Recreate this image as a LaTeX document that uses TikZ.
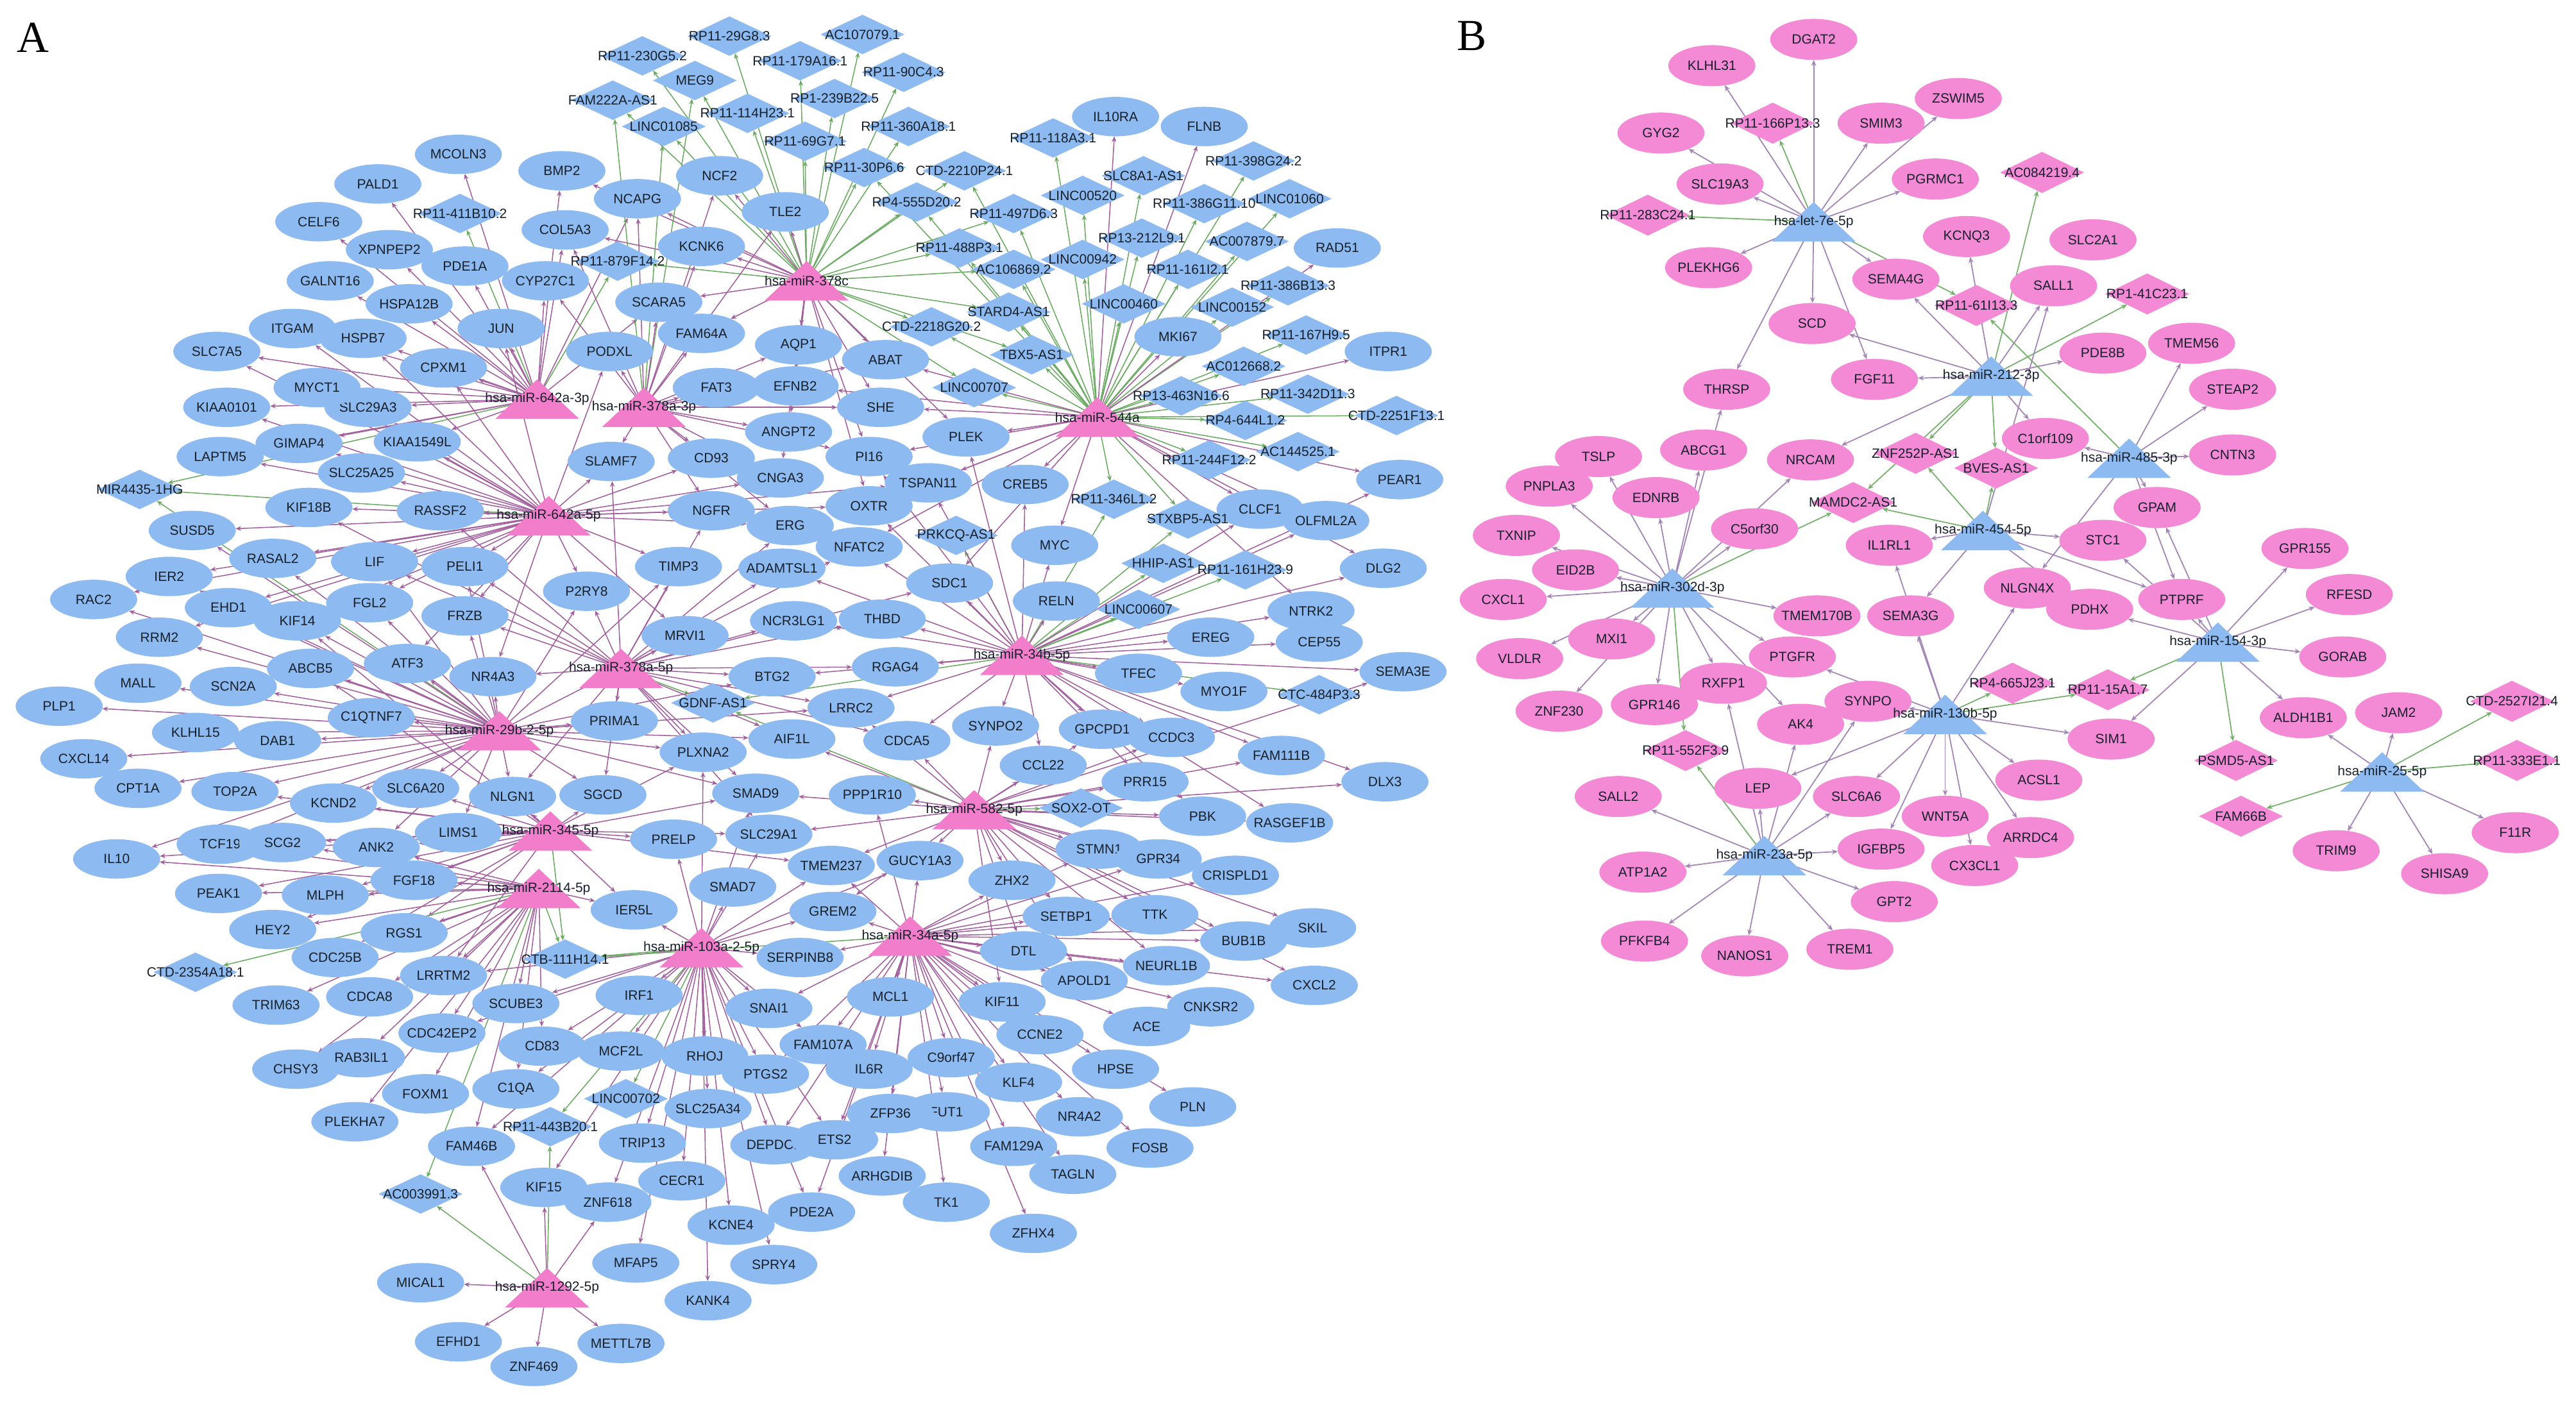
\documentclass[tikz,border=0pt]{standalone}
\usepackage{fontspec}
\setmainfont{Liberation Sans}
\newfontfamily\serifL{Liberation Serif}
\usetikzlibrary{shapes.geometric,arrows.meta,backgrounds}
\definecolor{nodeblue}{HTML}{8DBBF1}
\definecolor{hubpink}{HTML}{F27DCB}
\definecolor{nodepink}{HTML}{F48AD6}
\definecolor{edgep}{HTML}{A2609E}
\definecolor{edgepb}{HTML}{A386B6}
\definecolor{edgeg}{HTML}{6BAA62}
\definecolor{edgegb}{HTML}{78B06E}
\definecolor{txt}{HTML}{17202A}
\newcommand\nf{\fontsize{8.2}{9}\selectfont}
\newcommand\NGA[3]{\node[gA] (#1) at (#2) {\makebox[0pt]{#3}};}
\newcommand\NLA[3]{\node[lA] (#1) at (#2) {\makebox[0pt]{#3}};}
\newcommand\NGB[3]{\node[gB] (#1) at (#2) {\makebox[0pt]{#3}};}
\newcommand\NLB[3]{\node[lB] (#1) at (#2) {\makebox[0pt]{#3}};}
\newcommand\NHA[3]{\node[hA] (#1) at (#2) {\makebox[0pt]{#3}};}
\newcommand\NHB[3]{\node[hB] (#1) at (#2) {\makebox[0pt]{#3}};}
\tikzset{
 base/.style={inner sep=0pt, outer sep=0pt, font=\nf, text=txt},
 gA/.style={base, ellipse, fill=nodeblue, minimum width=53pt, minimum height=24pt},
 lA/.style={base, diamond, aspect=2, fill=nodeblue, minimum width=51pt, minimum height=24pt},
 gB/.style={base, ellipse, fill=nodepink, minimum width=53pt, minimum height=25pt},
 lB/.style={base, diamond, aspect=2, fill=nodepink, minimum width=51pt, minimum height=25pt},
 tri/.style={base, rectangle, minimum width=51pt, minimum height=24pt, draw=white, draw opacity=0,
   path picture={\fill[#1] (path picture bounding box.south west) -- (path picture bounding box.north) -- (path picture bounding box.south east) -- cycle;}},
 hA/.style={tri=hubpink},
 hB/.style={tri=nodeblue},
 pe/.style={draw=edgep, line width=0.6pt, -{Stealth[length=3.4pt,width=2.8pt]}},
 ge/.style={draw=edgeg, line width=0.6pt, -{Stealth[length=3.4pt,width=2.8pt]}},
 peb/.style={draw=edgepb, line width=0.7pt, -{Stealth[length=3.6pt,width=3pt]}},
 geb/.style={draw=edgegb, line width=0.7pt, -{Stealth[length=3.6pt,width=3pt]}},
}
\begin{document}
\begin{tikzpicture}[x=1pt,y=-1pt]
\useasboundingbox (0,0) rectangle (1568,854);
\node[inner sep=0pt, anchor=center] (labA) at (20,23) {\serifL\fontsize{27}{30}\selectfont A};
\node[inner sep=0pt, anchor=center] (labB) at (896,22) {\serifL\fontsize{27}{30}\selectfont B};
% ---------------- Panel A nodes ----------------
\NGA{MCOLN3}{279,94}{MCOLN3}
\NGA{PALD1}{230,112}{PALD1}
\NLA{RP11-411B10p2}{280,130}{RP11-411B10.2}
\NGA{CELF6}{194,135}{CELF6}
\NGA{XPNPEP2}{237,152}{XPNPEP2}
\NGA{PDE1A}{283,162}{PDE1A}
\NGA{GALNT16}{201,171}{GALNT16}
\NGA{HSPA12B}{249,185}{HSPA12B}
\NGA{ITGAM}{178,200}{ITGAM}
\NGA{HSPB7}{221,206}{HSPB7}
\NGA{SLC7A5}{132,214}{SLC7A5}
\NGA{CPXM1}{270,224}{CPXM1}
\NGA{SLC29A3}{224,248}{SLC29A3}
\NGA{MYCT1}{193,236}{MYCT1}
\NGA{KIAA0101}{138,248}{KIAA0101}
\NGA{GIMAP4}{182,270}{GIMAP4}
\NGA{KIAA1549L}{254,269}{KIAA1549L}
\NGA{LAPTM5}{134,278}{LAPTM5}
\NGA{JUN}{305,200}{JUN}
\NGA{CYP27C1}{332,171}{CYP27C1}
\NLA{RP11-29G8p3}{444,22}{RP11-29G8.3}
\NLA{AC107079p1}{525,21}{AC107079.1}
\NLA{RP11-230G5p2}{391,34}{RP11-230G5.2}
\NLA{RP11-179A16p1}{487,37}{RP11-179A16.1}
\NLA{RP11-90C4p3}{550,44}{RP11-90C4.3}
\NLA{MEG9}{423,49}{MEG9}
\NLA{FAM222A-AS1}{373,61}{FAM222A-AS1}
\NLA{RP1-239B22p5}{508,60}{RP1-239B22.5}
\NLA{RP11-114H23p1}{455,69}{RP11-114H23.1}
\NLA{LINC01085}{404,77}{LINC01085}
\NLA{RP11-360A18p1}{553,77}{RP11-360A18.1}
\NLA{RP11-69G7p1}{490,86}{RP11-69G7.1}
\NLA{RP11-30P6p6}{526,102}{RP11-30P6.6}
\NLA{CTD-2210P24p1}{587,104}{CTD-2210P24.1}
\NLA{RP4-555D20p2}{558,123}{RP4-555D20.2}
\NGA{BMP2}{342,104}{BMP2}
\NGA{NCF2}{438,107}{NCF2}
\NGA{NCAPG}{388,121}{NCAPG}
\NGA{TLE2}{478,129}{TLE2}
\NGA{COL5A3}{344,140}{COL5A3}
\NGA{KCNK6}{427,150}{KCNK6}
\NLA{RP11-879F14p2}{376,159}{RP11-879F14.2}
\NLA{RP11-488P3p1}{584,151}{RP11-488P3.1}
\NGA{SCARA5}{401,184}{SCARA5}
\NGA{FAM64A}{427,203}{FAM64A}
\NGA{AQP1}{486,210}{AQP1}
\NLA{CTD-2218G20p2}{567,199}{CTD-2218G20.2}
\NGA{ABAT}{539,219}{ABAT}
\NGA{PODXL}{371,214}{PODXL}
\NGA{FAT3}{436,236}{FAT3}
\NGA{EFNB2}{484,235}{EFNB2}
\NLA{LINC00707}{593,236}{LINC00707}
\NGA{SHE}{536,248}{SHE}
\NGA{ANGPT2}{480,263}{ANGPT2}
\NGA{PI16}{529,278}{PI16}
\NGA{PLEK}{588,266}{PLEK}
\NGA{SLAMF7}{372,281}{SLAMF7}
\NGA{CD93}{433,279}{CD93}
\NGA{IL10RA}{679,71}{IL10RA}
\NGA{FLNB}{733,77}{FLNB}
\NLA{RP11-118A3p1}{641,84}{RP11-118A3.1}
\NLA{SLC8A1-AS1}{696,107}{SLC8A1-AS1}
\NLA{RP11-398G24p2}{763,98}{RP11-398G24.2}
\NLA{LINC00520}{659,119}{LINC00520}
\NLA{LINC01060}{785,121}{LINC01060}
\NLA{RP11-386G11p10}{733,124}{RP11-386G11.10}
\NLA{RP11-497D6p3}{617,130}{RP11-497D6.3}
\NLA{RP13-212L9p1}{695,145}{RP13-212L9.1}
\NLA{AC007879p7}{759,147}{AC007879.7}
\NGA{RAD51}{814,151}{RAD51}
\NLA{AC106869p2}{617,164}{AC106869.2}
\NLA{LINC00942}{659,158}{LINC00942}
\NLA{RP11-161I2p1}{723,164}{RP11-161I2.1}
\NLA{RP11-386B13p3}{784,174}{RP11-386B13.3}
\NLA{LINC00460}{684,185}{LINC00460}
\NLA{LINC00152}{750,187}{LINC00152}
\NLA{STARD4-AS1}{614,190}{STARD4-AS1}
\NGA{MKI67}{717,205}{MKI67}
\NLA{RP11-167H9p5}{795,204}{RP11-167H9.5}
\NGA{ITPR1}{845,214}{ITPR1}
\NLA{TBX5-AS1}{628,216}{TBX5-AS1}
\NLA{AC012668p2}{757,223}{AC012668.2}
\NLA{RP13-463N16p6}{719,241}{RP13-463N16.6}
\NLA{RP11-342D11p3}{796,240}{RP11-342D11.3}
\NLA{CTD-2251F13p1}{850,253}{CTD-2251F13.1}
\NLA{RP4-644L1p2}{758,256}{RP4-644L1.2}
\NLA{AC144525p1}{790,275}{AC144525.1}
\NLA{RP11-244F12p2}{736,280}{RP11-244F12.2}
\NGA{PEAR1}{852,292}{PEAR1}
\NGA{CREB5}{624,295}{CREB5}
\NLA{RP11-346L1p2}{678,304}{RP11-346L1.2}
\NGA{CLCF1}{767,310}{CLCF1}
\NLA{STXBP5-AS1}{723,316}{STXBP5-AS1}
\NGA{OLFML2A}{807,317}{OLFML2A}
\NLA{PRKCQ-AS1}{582,326}{PRKCQ-AS1}
\NGA{MYC}{642,332}{MYC}
\NLA{HHIP-AS1}{708,343}{HHIP-AS1}
\NLA{RP11-161H23p9}{758,347}{RP11-161H23.9}
\NGA{DLG2}{842,346}{DLG2}
\NGA{SDC1}{578,355}{SDC1}
\NGA{RELN}{643,366}{RELN}
\NLA{LINC00607}{693,371}{LINC00607}
\NGA{NTRK2}{798,372}{NTRK2}
\NGA{EREG}{737,388}{EREG}
\NGA{CEP55}{803,391}{CEP55}
\NGA{SEMA3E}{854,409}{SEMA3E}
\NGA{TFEC}{693,410}{TFEC}
\NGA{MYO1F}{745,421}{MYO1F}
\NLA{CTC-484P3p3}{803,423}{CTC-484P3.3}
\NGA{SYNPO2}{606,442}{SYNPO2}
\NGA{GPCPD1}{671,444}{GPCPD1}
\NGA{CCDC3}{713,449}{CCDC3}
\NGA{FAM111B}{780,460}{FAM111B}
\NGA{CCL22}{635,466}{CCL22}
\NGA{PRR15}{697,476}{PRR15}
\NGA{DLX3}{843,476}{DLX3}
\NLA{SOX2-OT}{658,492}{SOX2-OT}
\NGA{PBK}{732,497}{PBK}
\NGA{RASGEF1B}{785,501}{RASGEF1B}
\NGA{STMN1}{669,517}{STMN1}
\NGA{GPR34}{705,523}{GPR34}
\NGA{CRISPLD1}{752,533}{CRISPLD1}
\NGA{ZHX2}{616,536}{ZHX2}
\NGA{SETBP1}{649,558}{SETBP1}
\NGA{TTK}{703,557}{TTK}
\NGA{SKIL}{799,565}{SKIL}
\NGA{BUB1B}{757,573}{BUB1B}
\NGA{DTL}{623,579}{DTL}
\NGA{NEURL1B}{710,588}{NEURL1B}
\NGA{APOLD1}{660,597}{APOLD1}
\NGA{CXCL2}{800,600}{CXCL2}
\NGA{KIF11}{610,610}{KIF11}
\NGA{CNKSR2}{737,613}{CNKSR2}
\NGA{ACE}{698,625}{ACE}
\NGA{CCNE2}{633,630}{CCNE2}
\NGA{C9orf47}{579,644}{C9orf47}
\NGA{HPSE}{679,651}{HPSE}
\NGA{KLF4}{620,659}{KLF4}
\NGA{FUT1}{576,677}{FUT1}
\NGA{PLN}{726,674}{PLN}
\NGA{NR4A2}{657,680}{NR4A2}
\NGA{FAM129A}{617,698}{FAM129A}
\NGA{FOSB}{700,699}{FOSB}
\NGA{TAGLN}{653,715}{TAGLN}
\NGA{TK1}{576,732}{TK1}
\NGA{ZFHX4}{629,751}{ZFHX4}
\NLA{CTB-111H14p1}{344,584}{CTB-111H14.1}
\NGA{SERPINB8}{487,583}{SERPINB8}
\NGA{SCUBE3}{314,611}{SCUBE3}
\NGA{IRF1}{389,606}{IRF1}
\NGA{SNAI1}{468,614}{SNAI1}
\NGA{MCL1}{542,607}{MCL1}
\NGA{CD83}{330,637}{CD83}
\NGA{MCF2L}{378,640}{MCF2L}
\NGA{RHOJ}{429,643}{RHOJ}
\NGA{FAM107A}{501,636}{FAM107A}
\NGA{PTGS2}{466,654}{PTGS2}
\NGA{IL6R}{529,651}{IL6R}
\NGA{C1QA}{314,663}{C1QA}
\NLA{LINC00702}{381,669}{LINC00702}
\NGA{SLC25A34}{431,675}{SLC25A34}
\NGA{ZFP36}{542,678}{ZFP36}
\NLA{RP11-443B20p1}{335,686}{RP11-443B20.1}
\NGA{FAM46B}{287,698}{FAM46B}
\NGA{TRIP13}{391,696}{TRIP13}
\NGA{DEPDC1}{471,697}{DEPDC1}
\NGA{ETS2}{508,694}{ETS2}
\NGA{ARHGDIB}{537,716}{ARHGDIB}
\NGA{KIF15}{331,723}{KIF15}
\NGA{CECR1}{415,719}{CECR1}
\NGA{ZNF618}{370,732}{ZNF618}
\NGA{PDE2A}{494,738}{PDE2A}
\NGA{KCNE4}{445,746}{KCNE4}
\NGA{MFAP5}{387,769}{MFAP5}
\NGA{SPRY4}{471,770}{SPRY4}
\NGA{KANK4}{431,792}{KANK4}
\NGA{METTL7B}{378,818}{METTL7B}
\NGA{ZNF469}{325,832}{ZNF469}
\NGA{EFHD1}{279,817}{EFHD1}
\NGA{MICAL1}{256,781}{MICAL1}
\NLA{AC003991p3}{256,727}{AC003991.3}
\NGA{HEY2}{166,566}{HEY2}
\NGA{RGS1}{246,568}{RGS1}
\NLA{CTD-2354A18p1}{119,592}{CTD-2354A18.1}
\NGA{CDC25B}{204,583}{CDC25B}
\NGA{LRRTM2}{270,594}{LRRTM2}
\NGA{TRIM63}{168,612}{TRIM63}
\NGA{CDCA8}{225,607}{CDCA8}
\NGA{CDC42EP2}{269,629}{CDC42EP2}
\NGA{CHSY3}{180,651}{CHSY3}
\NGA{RAB3IL1}{220,644}{RAB3IL1}
\NGA{FOXM1}{259,666}{FOXM1}
\NGA{PLEKHA7}{216,683}{PLEKHA7}
\NGA{SLC25A25}{220,288}{SLC25A25}
\NLA{MIR4435-1HG}{85,298}{MIR4435-1HG}
\NGA{KIF18B}{188,309}{KIF18B}
\NGA{RASSF2}{268,311}{RASSF2}
\NGA{SUSD5}{117,323}{SUSD5}
\NGA{RASAL2}{166,340}{RASAL2}
\NGA{LIF}{228,342}{LIF}
\NGA{PELI1}{283,345}{PELI1}
\NGA{IER2}{103,351}{IER2}
\NGA{RAC2}{57,365}{RAC2}
\NGA{EHD1}{139,370}{EHD1}
\NGA{FGL2}{225,367}{FGL2}
\NGA{FRZB}{283,375}{FRZB}
\NGA{KIF14}{181,378}{KIF14}
\NGA{RRM2}{97,388}{RRM2}
\NGA{ATF3}{248,404}{ATF3}
\NGA{ABCB5}{189,407}{ABCB5}
\NGA{NR4A3}{300,412}{NR4A3}
\NGA{MALL}{84,416}{MALL}
\NGA{SCN2A}{142,418}{SCN2A}
\NGA{PLP1}{36,430}{PLP1}
\NGA{C1QTNF7}{226,437}{C1QTNF7}
\NGA{KLHL15}{119,446}{KLHL15}
\NGA{DAB1}{169,451}{DAB1}
\NGA{CXCL14}{51,462}{CXCL14}
\NGA{CPT1A}{84,480}{CPT1A}
\NGA{TOP2A}{143,482}{TOP2A}
\NGA{SLC6A20}{253,480}{SLC6A20}
\NGA{KCND2}{203,489}{KCND2}
\NGA{LIMS1}{279,507}{LIMS1}
\NGA{TCF19}{134,514}{TCF19}
\NGA{SCG2}{172,513}{SCG2}
\NGA{ANK2}{229,516}{ANK2}
\NGA{IL10}{71,523}{IL10}
\NGA{FGF18}{252,536}{FGF18}
\NGA{PEAK1}{133,544}{PEAK1}
\NGA{MLPH}{198,545}{MLPH}
\NGA{NLGN1}{312,485}{NLGN1}
\NGA{SGCD}{367,484}{SGCD}
\NGA{CNGA3}{475,291}{CNGA3}
\NGA{TSPAN11}{565,294}{TSPAN11}
\NGA{NGFR}{433,311}{NGFR}
\NGA{OXTR}{529,308}{OXTR}
\NGA{ERG}{481,320}{ERG}
\NGA{NFATC2}{523,333}{NFATC2}
\NGA{TIMP3}{413,345}{TIMP3}
\NGA{ADAMTSL1}{476,346}{ADAMTSL1}
\NGA{P2RY8}{357,360}{P2RY8}
\NGA{NCR3LG1}{483,378}{NCR3LG1}
\NGA{THBD}{537,377}{THBD}
\NGA{MRVI1}{417,387}{MRVI1}
\NGA{RGAG4}{545,406}{RGAG4}
\NGA{BTG2}{470,412}{BTG2}
\NLA{GDNF-AS1}{434,428}{GDNF-AS1}
\NGA{LRRC2}{518,431}{LRRC2}
\NGA{PRIMA1}{374,439}{PRIMA1}
\NGA{AIF1L}{482,450}{AIF1L}
\NGA{CDCA5}{552,451}{CDCA5}
\NGA{PLXNA2}{428,458}{PLXNA2}
\NGA{SMAD9}{460,483}{SMAD9}
\NGA{PPP1R10}{531,484}{PPP1R10}
\NGA{PRELP}{410,511}{PRELP}
\NGA{SLC29A1}{468,508}{SLC29A1}
\NGA{TMEM237}{506,527}{TMEM237}
\NGA{GUCY1A3}{560,524}{GUCY1A3}
\NGA{SMAD7}{446,540}{SMAD7}
\NGA{IER5L}{386,554}{IER5L}
\NGA{GREM2}{507,555}{GREM2}
% hubs A
\NHA{hA1}{491,171}{hsa-miR-378c}
\NHA{hA2}{327,243}{hsa-miR-642a-3p}
\NHA{hA3}{392,248}{hsa-miR-378a-3p}
\NHA{hA4}{668,254}{hsa-miR-544a}
\NHA{hA5}{334,314}{hsa-miR-642a-5p}
\NHA{hA6}{378,407}{hsa-miR-378a-5p}
\NHA{hA7}{304,445}{hsa-miR-29b-2-5p}
\NHA{hA8}{622,399}{hsa-miR-34b-5p}
\NHA{hA9}{335,506}{hsa-miR-345-5p}
\NHA{hA10}{593,493}{hsa-miR-582-5p}
\NHA{hA11}{328,541}{hsa-miR-2114-5p}
\NHA{hA12}{427,577}{hsa-miR-103a-2-5p}
\NHA{hA13}{554,570}{hsa-miR-34a-5p}
\NHA{hA14}{333,784}{hsa-miR-1292-5p}
% ---------------- Panel B nodes ----------------
\NGB{bDGAT2}{1104,24}{DGAT2}
\NGB{bKLHL31}{1042,40}{KLHL31}
\NGB{bZSWIM5}{1192,60}{ZSWIM5}
\NGB{bGYG2}{1011,81}{GYG2}
\NLB{bRP11-166P13p3}{1079,75}{RP11-166P13.3}
\NGB{bSMIM3}{1145,75}{SMIM3}
\NGB{bPGRMC1}{1178,109}{PGRMC1}
\NLB{bAC084219p4}{1243,105}{AC084219.4}
\NGB{bSLC19A3}{1047,112}{SLC19A3}
\NLB{bRP11-283C24p1}{1003,131}{RP11-283C24.1}
\NGB{bPLEKHG6}{1040,163}{PLEKHG6}
\NGB{bKCNQ3}{1197,144}{KCNQ3}
\NGB{bSLC2A1}{1274,146}{SLC2A1}
\NGB{bSEMA4G}{1154,170}{SEMA4G}
\NGB{bSALL1}{1250,174}{SALL1}
\NLB{bRP1-41C23p1}{1307,179}{RP1-41C23.1}
\NLB{bRP11-61I13p3}{1203,186}{RP11-61I13.3}
\NGB{bSCD}{1103,197}{SCD}
\NGB{bTMEM56}{1334,209}{TMEM56}
\NGB{bPDE8B}{1280,215}{PDE8B}
\NGB{bFGF11}{1141,231}{FGF11}
\NGB{bTHRSP}{1051,237}{THRSP}
\NGB{bSTEAP2}{1359,237}{STEAP2}
\NGB{bC1orf109}{1245,267}{C1orf109}
\NLB{bZNF252P-AS1}{1166,276}{ZNF252P-AS1}
\NGB{bCNTN3}{1359,277}{CNTN3}
\NLB{bBVES-AS1}{1215,285}{BVES-AS1}
\NGB{bABCG1}{1037,274}{ABCG1}
\NGB{bTSLP}{973,278}{TSLP}
\NGB{bNRCAM}{1102,280}{NRCAM}
\NGB{bPNPLA3}{943,296}{PNPLA3}
\NGB{bEDNRB}{1008,303}{EDNRB}
\NLB{bMAMDC2-AS1}{1128,306}{MAMDC2-AS1}
\NGB{bGPAM}{1313,309}{GPAM}
\NGB{bC5orf30}{1068,322}{C5orf30}
\NGB{bTXNIP}{923,326}{TXNIP}
\NGB{bIL1RL1}{1150,332}{IL1RL1}
\NGB{bSTC1}{1280,329}{STC1}
\NGB{bGPR155}{1403,334}{GPR155}
\NGB{bEID2B}{959,347}{EID2B}
\NGB{bCXCL1}{915,365}{CXCL1}
\NGB{bNLGN4X}{1234,358}{NLGN4X}
\NGB{bPTPRF}{1328,365}{PTPRF}
\NGB{bRFESD}{1430,362}{RFESD}
\NGB{bPDHX}{1272,371}{PDHX}
\NGB{bTMEM170B}{1106,375}{TMEM170B}
\NGB{bSEMA3G}{1163,375}{SEMA3G}
\NGB{bMXI1}{981,389}{MXI1}
\NGB{bVLDLR}{925,401}{VLDLR}
\NGB{bPTGFR}{1091,400}{PTGFR}
\NGB{bGORAB}{1426,400}{GORAB}
\NGB{bRXFP1}{1049,416}{RXFP1}
\NGB{bZNF230}{949,433}{ZNF230}
\NGB{bGPR146}{1007,429}{GPR146}
\NGB{bSYNPO}{1137,427}{SYNPO}
\NGB{bAK4}{1096,441}{AK4}
\NLB{bRP4-665J23p1}{1225,416}{RP4-665J23.1}
\NLB{bRP11-15A1p7}{1283,420}{RP11-15A1.7}
\NGB{bSIM1}{1285,450}{SIM1}
\NGB{bALDH1B1}{1402,437}{ALDH1B1}
\NGB{bJAM2}{1460,434}{JAM2}
\NLB{bCTD-2527I21p4}{1529,427}{CTD-2527I21.4}
\NLB{bPSMD5-AS1}{1361,463}{PSMD5-AS1}
\NLB{bRP11-333E1p1}{1532,463}{RP11-333E1.1}
\NLB{bRP11-552F3p9}{1026,457}{RP11-552F3.9}
\NGB{bACSL1}{1241,475}{ACSL1}
\NGB{bLEP}{1070,480}{LEP}
\NGB{bSALL2}{985,485}{SALL2}
\NGB{bSLC6A6}{1130,485}{SLC6A6}
\NLB{bFAM66B}{1364,497}{FAM66B}
\NGB{bWNT5A}{1184,497}{WNT5A}
\NGB{bF11R}{1531,507}{F11R}
\NGB{bARRDC4}{1236,510}{ARRDC4}
\NGB{bIGFBP5}{1145,517}{IGFBP5}
\NGB{bTRIM9}{1422,518}{TRIM9}
\NGB{bCX3CL1}{1202,527}{CX3CL1}
\NGB{bSHISA9}{1488,532}{SHISA9}
\NGB{bATP1A2}{1000,531}{ATP1A2}
\NGB{bGPT2}{1153,549}{GPT2}
\NGB{bPFKFB4}{1001,573}{PFKFB4}
\NGB{bNANOS1}{1062,582}{NANOS1}
\NGB{bTREM1}{1126,578}{TREM1}
% hubs B
\NHB{hB1}{1104,135}{hsa-let-7e-5p}
\NHB{hB2}{1212,229}{hsa-miR-212-3p}
\NHB{hB3}{1296,279}{hsa-miR-485-3p}
\NHB{hB4}{1207,323}{hsa-miR-454-5p}
\NHB{hB5}{1018,358}{hsa-miR-302d-3p}
\NHB{hB6}{1184,435}{hsa-miR-130b-5p}
\NHB{hB7}{1350,391}{hsa-miR-154-3p}
\NHB{hB8}{1450,470}{hsa-miR-25-5p}
\NHB{hB9}{1074,521}{hsa-miR-23a-5p}
% ---------------- Edges ----------------
\begin{scope}[on background layer]
\fill[white] (0,0) rectangle (1568,854);
% A1 378c
\foreach \t in {RP11-29G8p3,AC107079p1,RP11-230G5p2,RP11-179A16p1,RP11-90C4p3,MEG9,FAM222A-AS1,RP1-239B22p5,RP11-114H23p1,LINC01085,RP11-360A18p1,RP11-69G7p1,RP11-30P6p6,CTD-2210P24p1,RP4-555D20p2,RP11-879F14p2,RP11-488P3p1,CTD-2218G20p2,AC106869p2,STARD4-AS1,TBX5-AS1,LINC00707,RP11-497D6p3}
  \draw[ge] (hA1.center) -- (\t);
\foreach \t in {TLE2,NCF2,KCNK6,SCARA5,NCAPG,AQP1,EFNB2,ABAT,SHE,PI16,ANGPT2,FAM64A,BMP2,COL5A3,PLEK,CNGA3,OXTR}
  \draw[pe] (hA1.center) -- (\t);
% A2 642a-3p
\foreach \t in {RP11-411B10p2,MIR4435-1HG,RP11-879F14p2}
  \draw[ge] (hA2.center) -- (\t);
\foreach \t in {JUN,CYP27C1,PDE1A,XPNPEP2,CELF6,PALD1,MCOLN3,GALNT16,HSPA12B,ITGAM,HSPB7,CPXM1,MYCT1,SLC29A3,SLC7A5,KIAA0101,GIMAP4,KIAA1549L,COL5A3,BMP2,LAPTM5,NCAPG,SCARA5}
  \draw[pe] (hA2.center) -- (\t);
% A3 378a-3p
\foreach \t in {LINC01085,FAM222A-AS1,MEG9}
  \draw[ge] (hA3.center) -- (\t);
\foreach \t in {PODXL,SCARA5,FAM64A,NCAPG,KCNK6,NCF2,COL5A3,FAT3,EFNB2,AQP1,SLAMF7,CD93,CNGA3,ANGPT2,ERG,NGFR,CYP27C1,TLE2,SHE,ABAT,PI16}
  \draw[pe] (hA3.center) -- (\t);
% A4 544a
\foreach \t in {RP11-118A3p1,SLC8A1-AS1,RP11-398G24p2,LINC00520,LINC01060,RP11-386G11p10,RP11-497D6p3,RP13-212L9p1,AC007879p7,AC106869p2,LINC00942,RP11-161I2p1,LINC00460,LINC00152,STARD4-AS1,TBX5-AS1,AC012668p2,RP13-463N16p6,RP11-342D11p3,CTD-2251F13p1,RP4-644L1p2,AC144525p1,RP11-244F12p2,RP11-167H9p5,LINC00707,RP11-488P3p1,RP4-555D20p2,CTD-2210P24p1,CTD-2218G20p2,RP11-386B13p3,RP11-346L1p2,STXBP5-AS1,RP11-30P6p6}
  \draw[ge] (hA4.center) -- (\t);
\foreach \t in {IL10RA,FLNB,MKI67,ITPR1,RAD51,PLEK,CREB5,CLCF1,PEAR1,OLFML2A,SHE,ABAT,PI16,TSPAN11,OXTR,NFATC2,SDC1,MYC,EFNB2,DLG2,NTRK2}
  \draw[pe] (hA4.center) -- (\t);
% A5 642a-5p
\foreach \t in {MIR4435-1HG}
  \draw[ge] (hA5.center) -- (\t);
\foreach \t in {SLC25A25,KIAA1549L,GIMAP4,LAPTM5,KIAA0101,SLC7A5,MYCT1,SLC29A3,RASSF2,KIF18B,SUSD5,RASAL2,LIF,PELI1,FRZB,FGL2,IER2,EHD1,RAC2,KIF14,RRM2,ATF3,NR4A3,P2RY8,SLAMF7,CD93,NGFR,TIMP3,CPXM1,HSPB7,ITGAM,JUN,PODXL,ERG,CNGA3,OXTR,TSPAN11,MRVI1}
  \draw[pe] (hA5.center) -- (\t);
% A6 378a-5p
\foreach \t in {GDNF-AS1}
  \draw[ge] (hA6.center) -- (\t);
\foreach \t in {P2RY8,PRIMA1,MRVI1,TIMP3,NR4A3,FRZB,PELI1,BTG2,AIF1L,PLXNA2,SGCD,NLGN1,SMAD9,NCR3LG1,ADAMTSL1,ERG,NGFR,CDCA5,RGAG4,THBD,LRRC2,SLC29A1,NFATC2,SDC1,SLAMF7,LIF,RASSF2,KIF18B}
  \draw[pe] (hA6.center) -- (\t);
% A7 29b-2-5p
\foreach \t in {MIR4435-1HG}
  \draw[ge] (hA7.center) -- (\t);
\foreach \t in {C1QTNF7,ATF3,ABCB5,SCN2A,MALL,PLP1,KLHL15,DAB1,CXCL14,CPT1A,TOP2A,KCND2,SLC6A20,RRM2,KIF14,FGL2,EHD1,RAC2,NR4A3,PRIMA1,NLGN1,SGCD,TCF19,IL10,ANK2,LIMS1,BTG2,LRRC2,AIF1L,IER2,LIF,FRZB,PELI1,SUSD5,RASAL2,TIMP3,MRVI1,P2RY8,SMAD9,PLXNA2}
  \draw[pe] (hA7.center) -- (\t);
% A8 34b-5p
\foreach \t in {HHIP-AS1,RP11-161H23p9,LINC00607,RP11-346L1p2,STXBP5-AS1,PRKCQ-AS1,CTC-484P3p3,GDNF-AS1}
  \draw[ge] (hA8.center) -- (\t);
\foreach \t in {RELN,MYC,CREB5,SDC1,TSPAN11,EREG,NTRK2,DLG2,CEP55,SEMA3E,TFEC,MYO1F,FAM111B,DLX3,GPCPD1,CCDC3,SYNPO2,CCL22,PRR15,THBD,RGAG4,LRRC2,CDCA5,NFATC2,OXTR,PI16,PLEK,CLCF1,OLFML2A,PEAR1,BTG2,NCR3LG1,ADAMTSL1,PBK,RASGEF1B}
  \draw[pe] (hA8.center) -- (\t);
% A9 345-5p
\foreach \t in {CTB-111H14p1}
  \draw[ge] (hA9.center) -- (\t);
\foreach \t in {NLGN1,SGCD,LIMS1,ANK2,FGF18,MLPH,PEAK1,IL10,TCF19,SCG2,KCND2,SLC6A20,PRELP,SMAD9,LRRTM2,RGS1,IER5L,TMEM237,HEY2,CDC25B,SLC29A1,PLXNA2,KIF14,ABCB5,TOP2A}
  \draw[pe] (hA9.center) -- (\t);
% A10 582-5p
\foreach \t in {SOX2-OT,GDNF-AS1}
  \draw[ge] (hA10.center) -- (\t);
\foreach \t in {PBK,RASGEF1B,STMN1,GPR34,CRISPLD1,ZHX2,SETBP1,TTK,SKIL,BUB1B,DTL,NEURL1B,CXCL2,GUCY1A3,PPP1R10,CDCA5,CCL22,PRR15,GPCPD1,SYNPO2,GREM2,TMEM237,CCDC3,DLX3,FAM111B,SEMA3E,SMAD9,SLC29A1,AIF1L,LRRC2,APOLD1,KIF11}
  \draw[pe] (hA10.center) -- (\t);
% A11 2114-5p
\foreach \t in {CTD-2354A18p1,CTB-111H14p1,AC003991p3}
  \draw[ge] (hA11.center) -- (\t);
\foreach \t in {RGS1,HEY2,CDC25B,LRRTM2,TRIM63,CDCA8,CDC42EP2,RAB3IL1,CHSY3,FOXM1,PLEKHA7,SCUBE3,CD83,C1QA,FAM46B,IER5L,MLPH,PEAK1,FGF18,ANK2,SCG2,TCF19,IL10}
  \draw[pe] (hA11.center) -- (\t);
% A12 103a-2-5p
\foreach \t in {LINC00702,RP11-443B20p1,CTB-111H14p1}
  \draw[ge] (hA12.center) -- (\t);
\foreach \t in {IRF1,SNAI1,SERPINB8,MCF2L,RHOJ,PTGS2,SLC25A34,TRIP13,DEPDC1,ETS2,CECR1,KCNE4,PDE2A,SPRY4,KANK4,MFAP5,ZNF618,KIF15,CD83,SCUBE3,C1QA,IER5L,SMAD7,GREM2,PRELP,FAM107A,SLC29A1,SMAD9,PLXNA2,TMEM237,GUCY1A3,FAM46B,CDC42EP2,LRRTM2}
  \draw[pe] (hA12.center) -- (\t);
% A13 34a-5p
\foreach \t in {CTB-111H14p1}
  \draw[ge] (hA13.center) -- (\t);
\foreach \t in {MCL1,FAM107A,IL6R,C9orf47,ZFP36,FUT1,KLF4,FAM129A,TK1,ZFHX4,TAGLN,NR4A2,FOSB,HPSE,PLN,CCNE2,KIF11,ACE,APOLD1,CNKSR2,NEURL1B,DTL,SETBP1,TTK,BUB1B,SKIL,CXCL2,ARHGDIB,ETS2,SERPINB8,SNAI1,GREM2,GUCY1A3,ZHX2,STMN1,GPR34,CRISPLD1,DEPDC1,PDE2A,TMEM237,PPP1R10,PTGS2}
  \draw[pe] (hA13.center) -- (\t);
% A14 1292-5p
\foreach \t in {AC003991p3,RP11-443B20p1}
  \draw[ge] (hA14.center) -- (\t);
\foreach \t in {MICAL1,EFHD1,ZNF469,METTL7B,KIF15,ZNF618,FAM46B}
  \draw[pe] (hA14.center) -- (\t);
% ---------- B edges ----------
\foreach \t in {bRP11-166P13p3,bRP11-283C24p1,bRP11-61I13p3}
  \draw[geb] (hB1.center) -- (\t);
\foreach \t in {bDGAT2,bKLHL31,bSMIM3,bZSWIM5,bPGRMC1,bSLC19A3,bGYG2,bPLEKHG6,bSCD,bSEMA4G,bTHRSP,bFGF11}
  \draw[peb] (hB1.center) -- (\t);
\foreach \t in {bAC084219p4,bRP1-41C23p1,bZNF252P-AS1,bBVES-AS1,bMAMDC2-AS1}
  \draw[geb] (hB2.center) -- (\t);
\foreach \t in {bKCNQ3,bSALL1,bPDE8B,bSCD,bSEMA4G,bNRCAM,bC1orf109,bFGF11}
  \draw[peb] (hB2.center) -- (\t);
\foreach \t in {bRP11-61I13p3}
  \draw[geb] (hB3.center) -- (\t);
\foreach \t in {bTMEM56,bSTEAP2,bCNTN3,bGPAM,bPTPRF,bNLGN4X,bC1orf109}
  \draw[peb] (hB3.center) -- (\t);
\foreach \t in {bMAMDC2-AS1,bZNF252P-AS1,bBVES-AS1}
  \draw[geb] (hB4.center) -- (\t);
\foreach \t in {bSTC1,bPTPRF,bIL1RL1,bSEMA3G,bSALL1,bPDHX}
  \draw[peb] (hB4.center) -- (\t);
\foreach \t in {bMAMDC2-AS1,bRP11-552F3p9}
  \draw[geb] (hB5.center) -- (\t);
\foreach \t in {bTSLP,bPNPLA3,bEDNRB,bABCG1,bTHRSP,bNRCAM,bC5orf30,bEID2B,bCXCL1,bTXNIP,bMXI1,bVLDLR,bTMEM170B,bPTGFR,bGPR146,bZNF230,bRXFP1,bAK4}
  \draw[peb] (hB5.center) -- (\t);
\foreach \t in {bRP4-665J23p1,bRP11-15A1p7}
  \draw[geb] (hB6.center) -- (\t);
\foreach \t in {bSYNPO,bLEP,bSLC6A6,bWNT5A,bCX3CL1,bARRDC4,bACSL1,bSIM1,bIGFBP5,bSEMA3G,bIL1RL1,bPTGFR,bNLGN4X}
  \draw[peb] (hB6.center) -- (\t);
\foreach \t in {bRP11-15A1p7,bPSMD5-AS1}
  \draw[geb] (hB7.center) -- (\t);
\foreach \t in {bGPR155,bRFESD,bGORAB,bPTPRF,bPDHX,bALDH1B1,bSIM1,bGPAM,bSTC1}
  \draw[peb] (hB7.center) -- (\t);
\foreach \t in {bCTD-2527I21p4,bRP11-333E1p1,bFAM66B}
  \draw[geb] (hB8.center) -- (\t);
\foreach \t in {bALDH1B1,bJAM2,bF11R,bSHISA9,bTRIM9}
  \draw[peb] (hB8.center) -- (\t);
\foreach \t in {bRP11-552F3p9}
  \draw[geb] (hB9.center) -- (\t);
\foreach \t in {bSALL2,bATP1A2,bPFKFB4,bNANOS1,bTREM1,bGPT2,bIGFBP5,bLEP,bSLC6A6,bAK4,bSYNPO,bRXFP1}
  \draw[peb] (hB9.center) -- (\t);
\end{scope}
\end{tikzpicture}
\end{document}
